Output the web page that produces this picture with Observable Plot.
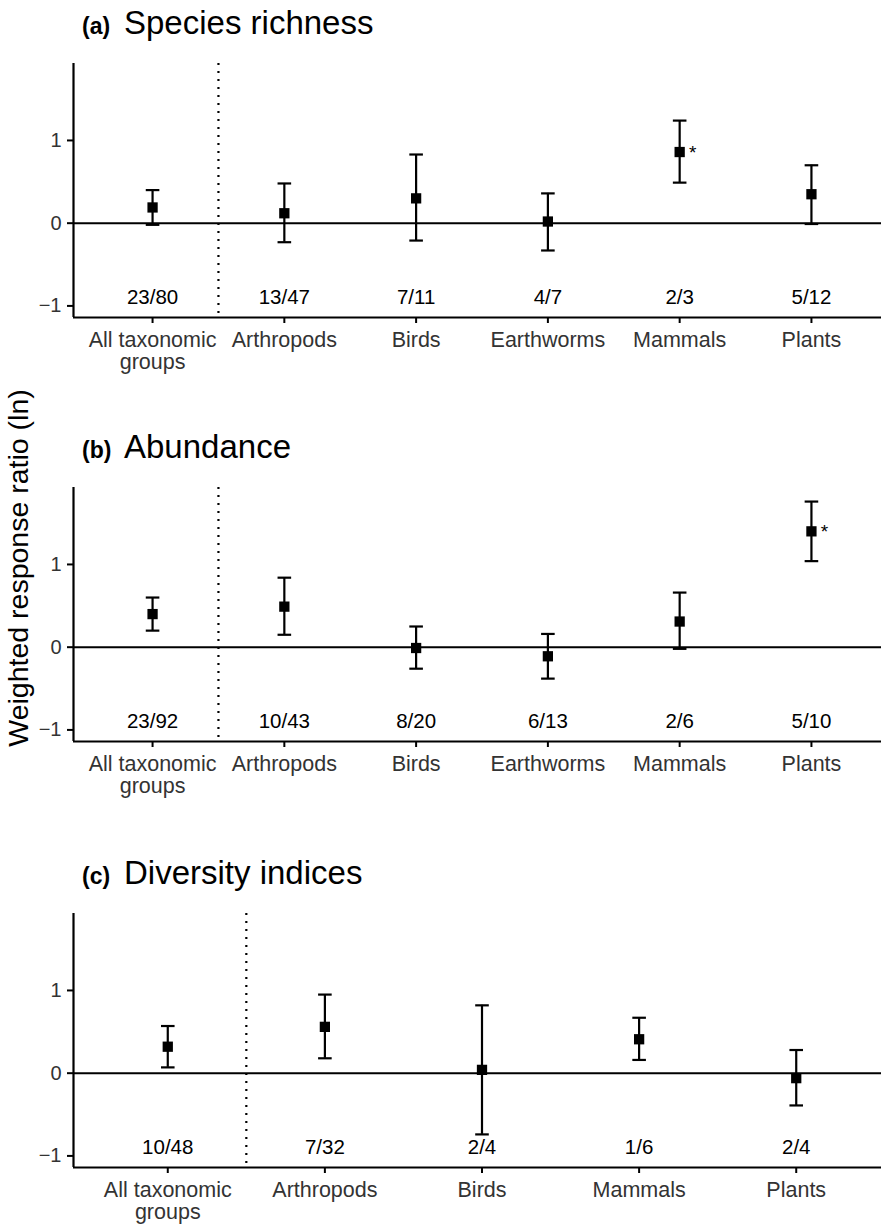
<!DOCTYPE html>
<html><head><meta charset="utf-8">
<script src="https://cdn.jsdelivr.net/npm/d3@7"></script>
<script src="https://cdn.jsdelivr.net/npm/@observablehq/plot@0.6"></script>
<style>
body{margin:0;background:#fff;}
#root{position:relative;width:881px;height:1224px;overflow:hidden;background:#fff;font-family:"Liberation Sans",Arial,sans-serif;}
#root svg.panel{position:absolute;left:0;}
#overlay{position:absolute;left:0;top:0;pointer-events:none;}
</style>
</head><body>
<div id="root"></div>
<script>
// ---- data ----
const groups6 = ["All taxonomic\ngroups","Arthropods","Birds","Earthworms","Mammals","Plants"];
const groups5 = ["All taxonomic\ngroups","Arthropods","Birds","Mammals","Plants"];

const richMean = [0.19, 0.12, 0.30, 0.02, 0.86, 0.35];
const richLow  = [-0.02, -0.23, -0.21, -0.33, 0.49, -0.01];
const richHigh = [0.40, 0.48, 0.83, 0.36, 1.24, 0.70];
const richN    = ["23/80","13/47","7/11","4/7","2/3","5/12"];
const richSig  = [false,false,false,false,true,false];

const abundMean = [0.40, 0.49, -0.01, -0.11, 0.31, 1.40];
const abundLow  = [0.20, 0.15, -0.26, -0.38, -0.02, 1.04];
const abundHigh = [0.60, 0.84, 0.25, 0.16, 0.66, 1.76];
const abundN    = ["23/92","10/43","8/20","6/13","2/6","5/10"];
const abundSig  = [false,false,false,false,false,true];

const divMean = [0.32, 0.56, 0.04, 0.41, -0.06];
const divLow  = [0.07, 0.18, -0.74, 0.16, -0.39];
const divHigh = [0.57, 0.95, 0.82, 0.67, 0.28];
const divN    = ["10/48","7/32","2/4","1/6","2/4"];
const divSig  = [false,false,false,false,false];

const yTicks = [-1, 0, 1];
const yDomain = [-1.14, 1.93];
const nLabelY = -0.9;

const panels = [
  {tag:"(a)", title:"Species richness", groups:groups6, mean:richMean, low:richLow, high:richHigh, n:richN, sig:richSig, top:53},
  {tag:"(b)", title:"Abundance", groups:groups6, mean:abundMean, low:abundLow, high:abundHigh, n:abundN, sig:abundSig, top:477},
  {tag:"(c)", title:"Diversity indices", groups:groups5, mean:divMean, low:divLow, high:divHigh, n:divN, sig:divSig, top:903}
];
const yLabel = "Weighted response ratio (ln)";

// ---- drawing ----
const FONT = "Liberation Sans, Arial, sans-serif";
const capSymbol = {draw(ctx, size){ const r = Math.sqrt(size / Math.PI); ctx.moveTo(-r, 0); ctx.lineTo(r, 0); }};
const root = document.getElementById("root");
const marginTop = 10, marginBottom = 71, frameH = 254, left = 73;
const LW = 2.2;

for (const p of panels) {
  const data = p.groups.map((g, i) => ({i, g, mean:p.mean[i], low:p.low[i], high:p.high[i], n:p.n[i], sig:p.sig[i], ny:nLabelY}));
  const k = data.length;
  const xDomain = [-0.6, k - 1 + 0.6];
  const sep = (data[0].i + data[1].i) / 2;
  const chart = Plot.plot({
    width: 881, height: marginTop + frameH + marginBottom,
    marginLeft: left, marginRight: 0, marginTop, marginBottom,
    style: {fontFamily: FONT, background: "white", overflow: "visible"},
    x: {type: "linear", domain: xDomain, range: [left, 890]},
    y: {domain: yDomain},
    marks: [
      Plot.ruleX([sep], {stroke: "black", strokeWidth: 2.2, strokeDasharray: "2,6"}),
      Plot.ruleY([0], {stroke: "black", strokeWidth: 2}),
      Plot.ruleX(data, {x: "i", y1: "low", y2: "high", stroke: "black", strokeWidth: LW}),
      Plot.dot(data, {x: "i", y: "low", symbol: capSymbol, r: 6.8, fill: "none", stroke: "black", strokeWidth: LW}),
      Plot.dot(data, {x: "i", y: "high", symbol: capSymbol, r: 6.8, fill: "none", stroke: "black", strokeWidth: LW}),
      Plot.dot(data, {x: "i", y: "mean", symbol: "square", r: 5.8, fill: "black", stroke: "none"}),
      Plot.text(data.filter(d => d.sig), {x: "i", y: "mean", text: () => "*", dx: 13, dy: 1, fontSize: 19, fill: "black"}),
      Plot.text(data, {x: "i", y: "ny", text: "n", fontSize: 20.5, fill: "black"}),
      Plot.axisY({ticks: yTicks, tickFormat: d3.format("d"), tickSize: 6, tickPadding: 6, fontSize: 20, stroke: "black", strokeWidth: 2, fill: "#333", label: null}),
      Plot.axisX({ticks: data.map(d => d.i), tickFormat: i => p.groups[i], tickSize: 6, tickPadding: 7, fontSize: 21.5, lineHeight: 1.05, stroke: "black", strokeWidth: 2, fill: "#333", label: null}),
      Plot.ruleX([xDomain[0]], {stroke: "black", strokeWidth: LW}),
      Plot.ruleY([yDomain[0]], {stroke: "black", strokeWidth: LW})
    ]
  });
  chart.classList.add("panel");
  chart.style.top = p.top + "px";
  root.appendChild(chart);
}

// titles and shared y label
const ov = d3.select(root).append("svg").attr("id", "overlay").attr("width", 881).attr("height", 1224)
  .style("font-family", FONT);
panels.forEach(p => {
  const t = ov.append("text").attr("y", p.top + marginTop - 29).attr("fill", "black");
  t.append("tspan").attr("x", 82).attr("font-weight", "bold").attr("font-size", 23).text(p.tag);
  t.append("tspan").attr("x", 124).attr("font-size", 33).text(p.title);
});
ov.append("text").attr("transform", "translate(28,568) rotate(-90)").attr("text-anchor", "middle")
  .attr("font-size", 28.5).attr("fill", "black").text(yLabel);
</script>
</body></html>
